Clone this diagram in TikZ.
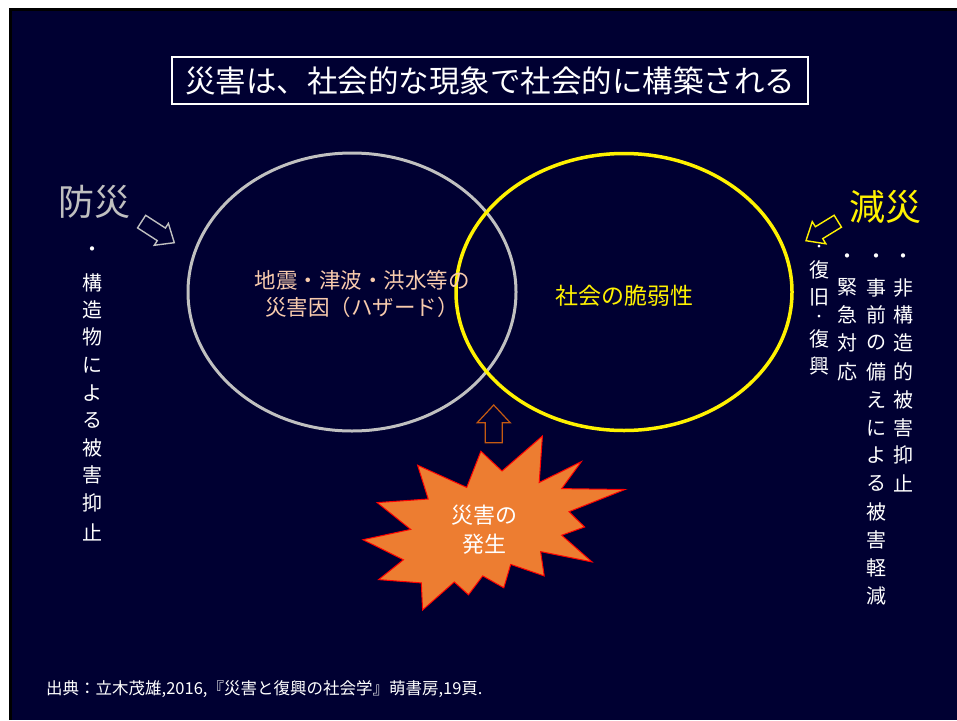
\documentclass[tikz,border=0pt]{standalone}
\usepackage{fontspec}
\setmainfont{Noto Sans CJK JP}
\usetikzlibrary{calc,shapes.geometric}
\definecolor{navy}{RGB}{0,0,50}
\definecolor{peach}{HTML}{F8CBAD}
\definecolor{lgray}{HTML}{C0C0C0}
\definecolor{burst}{HTML}{ED7D31}
\definecolor{arrowor}{HTML}{C55A11}
\newcommand\hollowarrow[6]{%
  \coordinate (#1n) at ($(#1)!#3!(#2)$);
  \draw[#6] ($(#1)!#4!90:(#2)$) -- ($(#1n)!#4!90:(#2)$) -- ($(#1n)!#5!90:(#2)$)
    -- (#2) -- ($(#1n)!#5!-90:(#2)$) -- ($(#1n)!#4!-90:(#2)$) -- ($(#1)!#4!-90:(#2)$) -- cycle;}
\tikzset{
  vch/.style={text=white, font=\fontsize{20}{24}\selectfont, inner sep=0pt},
  smalldot/.style={text=white, font=\fontsize{13}{15}\selectfont, inner sep=0pt},
  bigword/.style={font=\fontsize{36}{40}\selectfont, inner sep=0pt},
  venn/.style={ellipse, minimum width=#1, inner sep=0pt},
}
\begin{document}
\begin{tikzpicture}[x=1pt,y=-1pt]
\useasboundingbox (0,0) rectangle (957,720);
\fill[white] (0,0) rectangle (957,720);
\fill[black] (9,8) rectangle (957,720);
\fill[navy] (11.5,10.5) rectangle (957,720);

% title
\node[draw=white, line width=1.3pt, minimum width=636pt, minimum height=47pt, inner sep=0pt,
  text=white, font=\fontsize{30.5}{36}\selectfont] (title) at (490,80.5) {災害は、社会的な現象で社会的に構築される};

% ellipses
\node[venn=328pt, minimum height=278pt, draw=lgray, line width=3pt] (haz) at (352,292) {};
\node[venn=336pt, minimum height=277pt, draw=yellow, line width=3.5pt] (vul) at (624,292) {};

\node[text=peach, font=\fontsize{21.5}{27}\selectfont, align=center, inner sep=0pt] (haztext) at (362,294)
  {地震・津波・洪水等の\\災害因（ハザード）};
\node[text=yellow, font=\fontsize{23}{26}\selectfont, inner sep=0pt] (vultext) at (624,296) {社会の脆弱性};

% side headings
\node[bigword, text=lgray] (bousai) at (94,202) {防災};
\node[bigword, text=yellow] (gensai) at (885,207) {減災};

% hollow arrows
\coordinate (ga) at (141.6,221.6); \coordinate (gb) at (174.3,242.7);
\hollowarrow{ga}{gb}{23.5pt}{7.5pt}{13pt}{lgray, line width=1.4pt, line join=miter}
\coordinate (ya) at (837.8,221.2); \coordinate (yb) at (806,240.7);
\hollowarrow{ya}{yb}{22pt}{7pt}{13pt}{yellow, line width=1.4pt, line join=miter}
\coordinate (oa) at (493.7,442.7); \coordinate (ob) at (493.7,405);
\hollowarrow{oa}{ob}{20pt}{8.5pt}{16.5pt}{arrowor, line width=1.2pt, line join=miter}

% explosion
\draw[fill=burst, draw=red, line width=1pt, line join=miter]
 (542.4,436) -- (539.2,482.5) -- (581.4,461.6) -- (561.7,488.6) -- (625,489.5) -- (569.0,511.7)
 -- (584.6,527.0) -- (561.7,535.2) -- (592.0,561.9) -- (540.6,551.6) -- (544.2,575.9) -- (510.7,564.4)
 -- (503.8,587.8) -- (482.7,575.9) -- (468.5,594.8) -- (454.3,582.0) -- (422.6,610) -- (421.3,582.9)
 -- (378.6,579.6) -- (403.4,559.8) -- (363,539.7) -- (410.7,529.4) -- (377.2,502.6) -- (428.2,499.0)
 -- (417.6,465.2) -- (466.7,487.4) -- (480.9,451.2) -- (502.0,471.0) -- cycle;
\node[text=white, font=\fontsize{22}{29}\selectfont, align=center, inner sep=0pt] (event) at (484,529.5)
  {災害の\\発生};

% vertical texts
\foreach \c/\y [count=\i] in {・/252,構/283,造/310,物/337,に/365,よ/393,る/420,被/448,害/475,抑/503,止/532}
  \node[vch] (L\i) at (92,\y) {\c};
\foreach \c/\y [count=\i] in {・/259,非/288,構/315,造/343,的/372,被/400,害/428,抑/455,止/483}
  \node[vch] (R\i) at (903,\y) {\c};
\foreach \c/\y [count=\i] in {・/259,事/288,前/315,の/343,備/372,え/400,に/428,よ/455,る/483,被/512,害/540,軽/568,減/596}
  \node[vch] (S\i) at (876,\y) {\c};
\foreach \c/\y [count=\i] in {・/259,緊/287,急/315,対/343,応/372}
  \node[vch] (T\i) at (847,\y) {\c};
\node[smalldot] (U1) at (819,248) {・};
\node[vch] (U2) at (819,270) {復};
\node[vch] (U3) at (819,297) {旧};
\node[smalldot] (U4) at (819,318) {・};
\node[vch] (U5) at (819,339) {復};
\node[vch] (U6) at (819,366) {興};

% source
\node[anchor=west, text=white, font=\fontsize{16.5}{19}\selectfont, inner sep=0pt] (src) at (46,689)
  {出典：立木茂雄,2016,『災害と復興の社会学』萌書房,19頁.};
\end{tikzpicture}
\end{document}
